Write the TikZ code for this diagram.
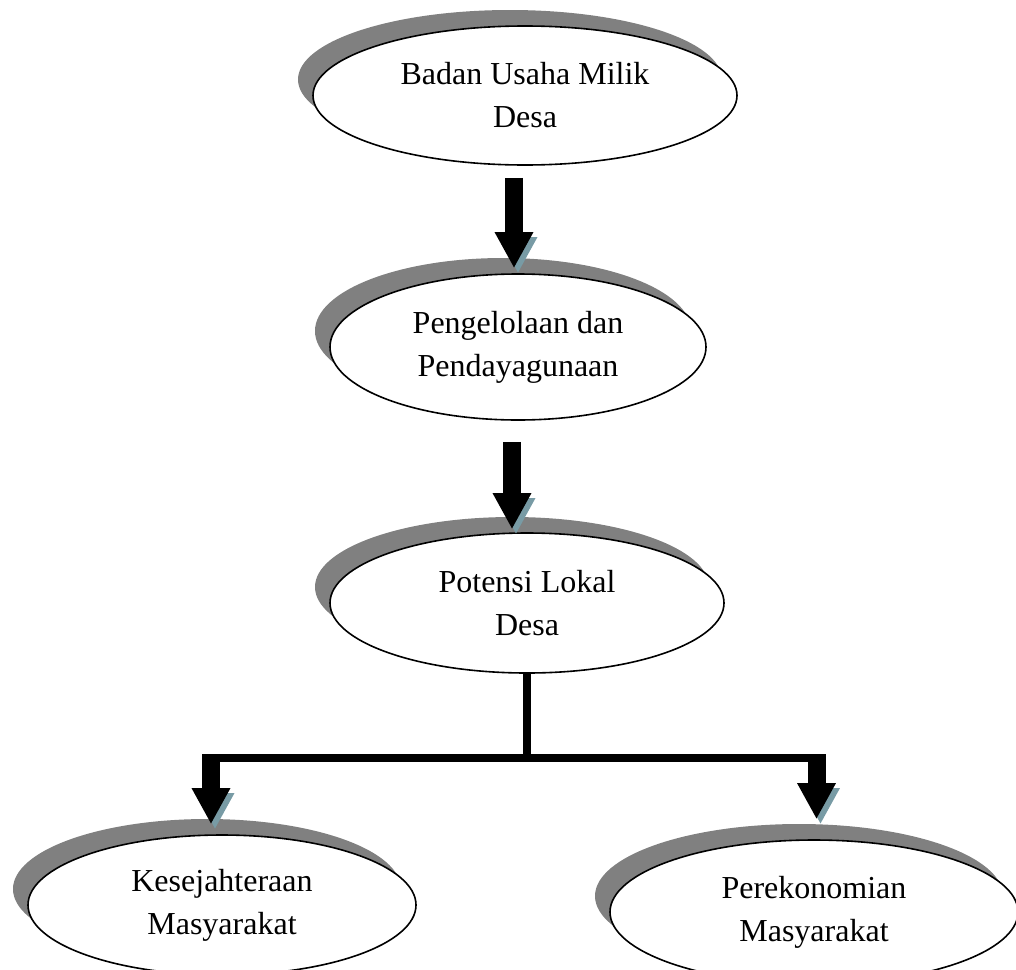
\documentclass[tikz,border=0pt]{standalone}
\usepackage{fontspec}
\setmainfont{Liberation Serif}
\usetikzlibrary{shapes.geometric,shadows,arrows.meta}
\definecolor{shgray}{RGB}{128,128,128}
\definecolor{arsh}{RGB}{120,155,165}
\begin{document}
\begin{tikzpicture}[x=1pt,y=-1pt,
  bubble/.style={ellipse, draw=black, line width=1.6pt, fill=white, inner sep=0pt, align=center,
    font=\fontsize{32}{43}\selectfont,
    drop shadow={shadow xshift=-15pt, shadow yshift=16pt, fill=shgray, opacity=1}},
  bigarrow/.style={line width=18pt, -{Triangle[width=36pt,length=36pt]},
    preaction={draw=arsh, transform canvas={xshift=4pt,yshift=-5pt}}},
  barline/.style={line width=8pt}]
\useasboundingbox (0,0) rectangle (1016,969);

\node[bubble, minimum width=424pt, minimum height=139pt] (bum) at (525,95.5) {Badan Usaha Milik\\Desa};
\node[bubble, minimum width=376pt, minimum height=146pt] (kelola) at (518,347) {Pengelolaan dan\\Pendayagunaan};
\node[bubble, minimum width=394pt, minimum height=140pt] (potensi) at (527,603) {Potensi Lokal\\Desa};
\node[bubble, minimum width=388pt, minimum height=140pt] (sejahtera) at (222,905) {Kesejahteraan\\Masyarakat};
\node[bubble, minimum width=408pt, minimum height=144pt] (ekonomi) at (814,912) {Perekonomian\\Masyarakat};

\draw[bigarrow] ([xshift=-11pt,yshift=-12pt]bum.south) -- ([xshift=-4pt,yshift=5pt]kelola.north);
\draw[bigarrow] ([xshift=-6pt,yshift=-21pt]kelola.south) -- ([xshift=-15pt,yshift=3pt]potensi.north);

\coordinate (hub) at (526,758);
\coordinate (barL) at (211,758);
\coordinate (barR) at (816.5,758);
\draw[barline] (potensi.south) -- (potensi.south |- hub);
\draw[barline] ([xshift=-9pt]barL) -- ([xshift=9.5pt]barR);
\draw[bigarrow] ([yshift=4pt]barL) -- ([xshift=-11pt,yshift=10pt]sejahtera.north);
\draw[bigarrow] ([yshift=4pt]barR) -- ([xshift=2.5pt,yshift=20pt]ekonomi.north);
\end{tikzpicture}
\end{document}
